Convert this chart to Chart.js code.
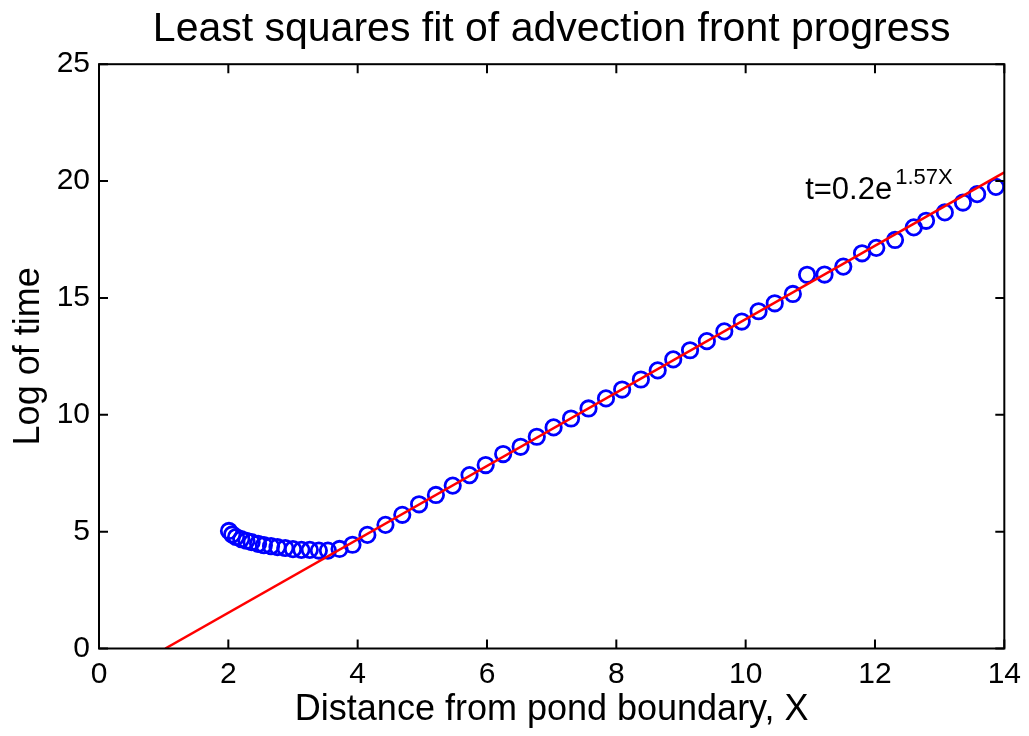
<!DOCTYPE html>
<html>
<head>
<meta charset="utf-8">
<title>Least squares fit of advection front progress</title>
<script src="https://cdn.jsdelivr.net/npm/chart.js@4.4.1/dist/chart.umd.min.js"></script>
<style>
  html, body { margin: 0; padding: 0; background: #ffffff; }
  #frame { width: 1029px; height: 736px; }
</style>
</head>
<body>
<div id="frame"><canvas id="chart" width="1029" height="736"></canvas></div>
<script>
// Front position X and log of the time at which it was reached
const distanceX = [
  2.01, 2.06, 2.12, 2.20, 2.28, 2.36, 2.46, 2.55, 2.66, 2.76,
  2.88, 3.00, 3.13, 3.26, 3.40, 3.54, 3.72, 3.92, 4.15, 4.43,
  4.69, 4.95, 5.21, 5.47, 5.73, 5.98, 6.25, 6.52, 6.77, 7.03,
  7.30, 7.57, 7.84, 8.09, 8.38, 8.64, 8.88, 9.14, 9.40, 9.67,
  9.94, 10.20, 10.45, 10.73, 10.95, 11.22, 11.51, 11.80, 12.02, 12.31,
  12.60, 12.79, 13.08, 13.36, 13.58, 13.87
];
const logTime = [
  5.03, 4.88, 4.77, 4.68, 4.61, 4.55, 4.48, 4.42, 4.38, 4.34,
  4.30, 4.25, 4.22, 4.22, 4.19, 4.19, 4.26, 4.44, 4.86, 5.29,
  5.72, 6.17, 6.57, 6.97, 7.42, 7.85, 8.32, 8.63, 9.06, 9.46,
  9.84, 10.27, 10.70, 11.08, 11.51, 11.90, 12.37, 12.76, 13.15, 13.57,
  13.99, 14.43, 14.77, 15.17, 15.99, 16.00, 16.34, 16.91, 17.14, 17.48,
  18.02, 18.30, 18.66, 19.08, 19.44, 19.75
];

// Least squares fit t = a * exp(b X), i.e. ln t = ln a + b X
const fitCoef = 0.2;
const fitRate = 1.57;

// Axis ranges and tick labels
const xRange = [0, 14];
const yRange = [0, 25];
const xTicks = [0, 2, 4, 6, 8, 10, 12, 14];
const yTicks = [0, 5, 10, 15, 20, 25];

// Where the fit equation is written (data units)
const eqAnchor = { x: 10.92, y: 19.24 };

const FONT = '"Liberation Sans", Arial, Helvetica, sans-serif';

const measured = distanceX.map((x, i) => ({ x: x, y: logTime[i] }));

// Fitted line starts where ln t crosses zero and runs to the right edge
const fitStart = Math.log(1 / fitCoef) / fitRate;
const fitLine = [fitStart, xRange[1]].map(x => ({ x: x, y: Math.log(fitCoef) + fitRate * x }));

// Box around the axes with inward tick marks on all four sides
const boxPlugin = {
  id: 'boxAxes',
  afterDatasetsDraw(chart) {
    const { ctx, chartArea: a, scales } = chart;
    const tl = 9;
    ctx.save();
    ctx.strokeStyle = '#000000';
    ctx.lineWidth = 2;
    ctx.strokeRect(a.left, a.top, a.right - a.left, a.bottom - a.top);
    ctx.beginPath();
    xTicks.forEach(v => {
      const px = scales.x.getPixelForValue(v);
      ctx.moveTo(px, a.bottom); ctx.lineTo(px, a.bottom - tl);
      ctx.moveTo(px, a.top); ctx.lineTo(px, a.top + tl);
    });
    yTicks.forEach(v => {
      const py = scales.y.getPixelForValue(v);
      ctx.moveTo(a.left, py); ctx.lineTo(a.left + tl, py);
      ctx.moveTo(a.right, py); ctx.lineTo(a.right - tl, py);
    });
    ctx.stroke();
    ctx.restore();
  }
};

// Fit equation with a superscript exponent
const equationPlugin = {
  id: 'fitEquation',
  afterDatasetsDraw(chart) {
    const { ctx, scales } = chart;
    const x = scales.x.getPixelForValue(eqAnchor.x);
    const y = scales.y.getPixelForValue(eqAnchor.y);
    const base = 't=' + fitCoef + 'e';
    const sup = fitRate + 'X';
    ctx.save();
    ctx.fillStyle = '#000000';
    ctx.textBaseline = 'alphabetic';
    ctx.textAlign = 'left';
    ctx.font = '31px ' + FONT;
    ctx.fillText(base, x, y);
    const w = ctx.measureText(base).width;
    ctx.font = '22px ' + FONT;
    ctx.fillText(sup, x + w + 3, y - 15);
    ctx.restore();
  }
};

new Chart(document.getElementById('chart'), {
  type: 'scatter',
  data: {
    datasets: [
      {
        label: 'Least squares fit',
        data: fitLine,
        showLine: true,
        borderColor: '#ff0000',
        borderWidth: 2.5,
        pointRadius: 0,
        fill: false,
        order: 0
      },
      {
        label: 'Front position',
        data: measured,
        showLine: false,
        pointStyle: 'circle',
        pointRadius: 7.7,
        borderWidth: 2.8,
        borderColor: '#0000ff',
        backgroundColor: 'rgba(0,0,0,0)',
        order: 1
      }
    ]
  },
  options: {
    responsive: false,
    animation: false,
    events: [],
    layout: { padding: { left: 0, right: 22, top: 0, bottom: 0 } },
    plugins: {
      legend: { display: false },
      tooltip: { enabled: false },
      title: {
        display: true,
        fullSize: false,
        text: 'Least squares fit of advection front progress',
        color: '#000000',
        font: { family: FONT, size: 41, weight: 'normal', lineHeight: 1.2 },
        padding: { top: 5, bottom: 10 }
      }
    },
    scales: {
      x: {
        type: 'linear',
        min: xRange[0],
        max: xRange[1],
        afterBuildTicks: s => { s.ticks = xTicks.map(v => ({ value: v })); },
        afterFit: s => { s.height = 87.5; },
        grid: { display: false, drawTicks: false },
        border: { display: false },
        ticks: {
          color: '#000000',
          padding: 8,
          maxRotation: 0,
          font: { family: FONT, size: 30 },
          callback: v => String(v)
        },
        title: {
          display: true,
          text: 'Distance from pond boundary, X',
          color: '#000000',
          font: { family: FONT, size: 36, lineHeight: 1.2 },
          padding: { top: 0, bottom: 4 }
        }
      },
      y: {
        type: 'linear',
        min: yRange[0],
        max: yRange[1],
        afterBuildTicks: s => { s.ticks = yTicks.map(v => ({ value: v })); },
        afterFit: s => { s.width = 99; },
        grid: { display: false, drawTicks: false },
        border: { display: false },
        ticks: {
          color: '#000000',
          padding: 9,
          font: { family: FONT, size: 30 },
          callback: v => String(v)
        },
        title: {
          display: true,
          text: 'Log of time',
          color: '#000000',
          font: { family: FONT, size: 36, lineHeight: 1.2 },
          padding: { top: 7, bottom: 0 }
        }
      }
    }
  },
  plugins: [boxPlugin, equationPlugin]
});
</script>
</body>
</html>
